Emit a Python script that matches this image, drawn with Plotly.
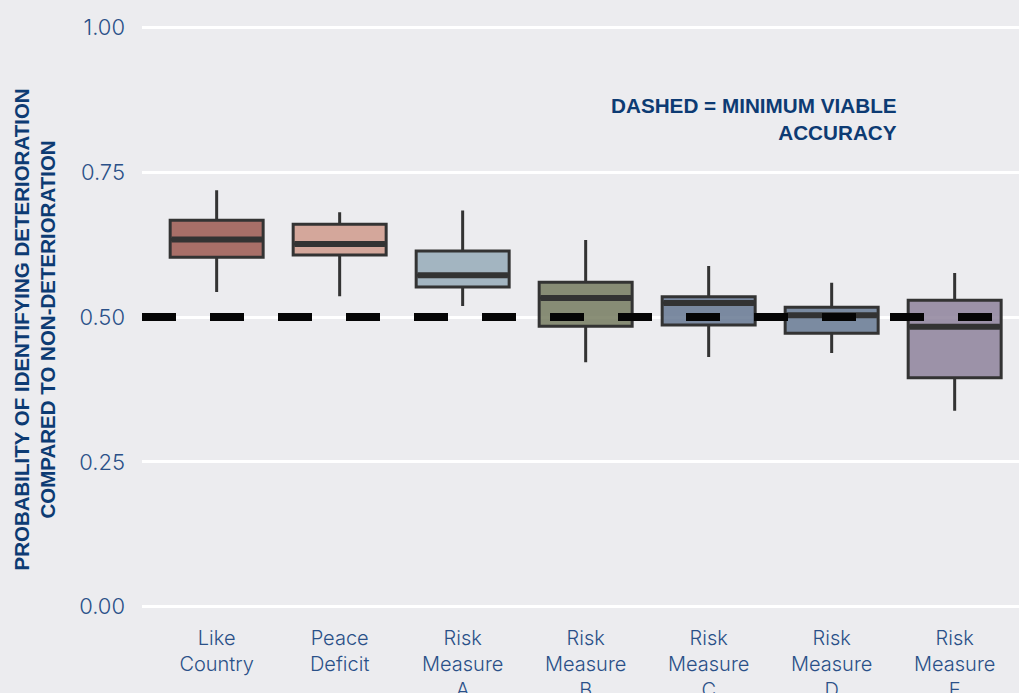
import plotly.graph_objects as go

categories = ["Like<br>Country", "Peace<br>Deficit", "Risk<br>Measure<br>A", "Risk<br>Measure<br>B",
              "Risk<br>Measure<br>C", "Risk<br>Measure<br>D", "Risk<br>Measure<br>E"]
upper_whisker = [0.719, 0.681, 0.684, 0.633, 0.588, 0.559, 0.576]
q3_values = [0.667, 0.660, 0.614, 0.560, 0.535, 0.517, 0.529]
median_values = [0.634, 0.626, 0.572, 0.533, 0.524, 0.503, 0.483]
q1_values = [0.603, 0.607, 0.552, 0.484, 0.486, 0.472, 0.395]
lower_whisker = [0.543, 0.536, 0.519, 0.422, 0.431, 0.438, 0.338]
min_viable_accuracy = 0.50
y_ticks = [0.0, 0.25, 0.5, 0.75, 1.0]
y_tick_labels = ["0.00", "0.25", "0.50", "0.75", "1.00"]

fill_colors = ["rgba(156,89,80,0.85)", "rgba(208,155,140,0.85)", "rgba(150,172,185,0.85)",
               "rgba(117,123,95,0.85)", "rgba(102,120,146,0.85)", "rgba(103,122,147,0.85)",
               "rgba(142,130,155,0.85)"]

BG = "#ECECEF"
EDGE = "#333333"
BOX_W = 0.756
positions = list(range(len(categories)))

fig = go.Figure()
for i in positions:
    fig.add_trace(go.Box(
        x=[i], q1=[q1_values[i]], median=[median_values[i]], q3=[q3_values[i]],
        lowerfence=[lower_whisker[i]], upperfence=[upper_whisker[i]],
        fillcolor=fill_colors[i], line=dict(color=EDGE, width=3),
        whiskerwidth=0, width=BOX_W, boxpoints=False, hoverinfo="skip",
        showlegend=False,
    ))
    fig.add_trace(go.Scatter(
        x=[i - BOX_W / 2 + 0.01, i + BOX_W / 2 - 0.01],
        y=[median_values[i], median_values[i]],
        mode="lines", line=dict(color=EDGE, width=6), hoverinfo="skip", showlegend=False,
    ))

fig.add_hline(y=min_viable_accuracy, line=dict(color="#050505", width=8, dash="34px,34px"),
              layer="above")

fig.add_annotation(
    text="DASHED = MINIMUM VIABLE<br>ACCURACY", xref="paper", yref="paper",
    x=(899 - 142) / 877, y=(624.4 - 92) / 614.8, xanchor="right", yanchor="top",
    align="right", showarrow=False,
    font=dict(family="Liberation Sans, Arial, sans-serif", size=20.7, color="#0D3B73", weight="bold"),
)
fig.add_annotation(
    text="PROBABILITY OF IDENTIFYING DETERIORATION<br>COMPARED TO NON-DETERIORATION",
    xref="paper", yref="paper", x=(34.5 - 142) / 877, y=(624.4 - 330) / 614.8,
    xanchor="center", yanchor="middle", textangle=-90, showarrow=False, align="center",
    font=dict(family="Liberation Sans, Arial, sans-serif", size=20.5, color="#0D3B73", weight="bold"),
)

tick_family = "Inter Light, Inter, Roboto, sans-serif"
fig.update_layout(
    width=1019, height=693,
    margin=dict(l=142, r=0, t=9.6, b=68.6, autoexpand=False),
    paper_bgcolor=BG, plot_bgcolor=BG,
    xaxis=dict(range=[-0.607, 6.523], tickmode="array", tickvals=positions, ticktext=categories,
               showgrid=False, zeroline=False, showline=False, automargin=False,
               tickfont=dict(family=tick_family, size=20, color="#2A5088", weight=300)),
    yaxis=dict(range=[-0.03, 1.03], tickmode="array", tickvals=y_ticks, ticktext=y_tick_labels,
               showgrid=True, gridcolor="white", gridwidth=3, zeroline=False, showline=False,
               ticklabelstandoff=16, automargin=False,
               tickfont=dict(family=tick_family, size=22, color="#2A5088", weight=300)),
)

fig.write_html("out.html", config={"displayModeBar": False, "staticPlot": True},
               post_script="document.body.style.margin='0';document.body.style.background='%s';" % BG)
